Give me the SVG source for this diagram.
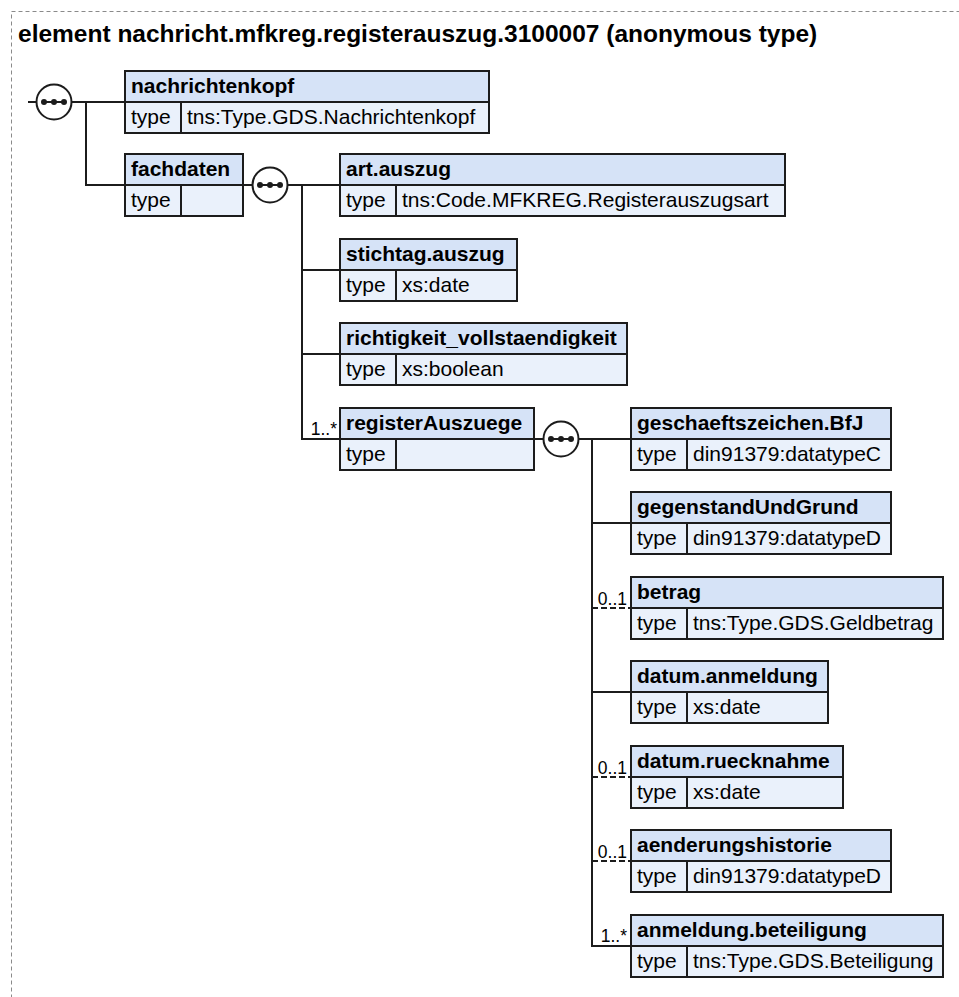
<svg xmlns="http://www.w3.org/2000/svg" width="959" height="997" viewBox="0 0 959 997">
<defs>
<style>
.frame{fill:none;stroke:#8a8a8a;stroke-width:1;stroke-dasharray:4 3}
.title{font-family:"Liberation Sans",Arial,sans-serif;font-weight:bold;font-size:24.5px;fill:#000}
.hd{fill:#d6e3f7;stroke:#1c1c1c;stroke-width:2}
.row{fill:#eaf1fb;stroke:#1c1c1c;stroke-width:2}
.nm{font-family:"Liberation Sans",Arial,sans-serif;font-weight:bold;font-size:21px;fill:#000}
.tx{font-family:"Liberation Sans",Arial,sans-serif;font-size:21px;fill:#000}
.card{font-family:"Liberation Sans",Arial,sans-serif;font-size:17.5px;fill:#000;text-anchor:end}
.ln{fill:none;stroke:#1c1c1c;stroke-width:2}
.opt{fill:none;stroke:#1c1c1c;stroke-width:2;stroke-dasharray:6 3}
.seq{fill:#fff;stroke:#1c1c1c;stroke-width:2}
.dot{fill:#1c1c1c}
</style>
<g id="seqicon">
<circle class="seq" cx="0" cy="0" r="17.5"/>
<line x1="-10" y1="0" x2="10" y2="0" stroke="#1c1c1c" stroke-width="2"/>
<circle class="dot" cx="-10" cy="0" r="3"/>
<circle class="dot" cx="0" cy="0" r="3"/>
<circle class="dot" cx="10" cy="0" r="3"/>
</g>
</defs>
<rect class="frame" x="11.5" y="11.5" width="960" height="1000"/>
<text class="title" x="18" y="42">element nachricht.mfkreg.registerauszug.3100007 (anonymous type)</text>

<g id="connectors">
<line class="ln" x1="28" y1="102" x2="125" y2="102"/>
<polyline class="ln" points="86,102 86,185 125,185"/>
<line class="ln" x1="243" y1="185" x2="340" y2="185"/>
<line class="ln" x1="302" y1="185" x2="302" y2="439"/>
<line class="ln" x1="302" y1="270" x2="340" y2="270"/>
<line class="ln" x1="302" y1="354" x2="340" y2="354"/>
<line class="ln" x1="301" y1="439" x2="340" y2="439"/>
<line class="ln" x1="534" y1="439" x2="631" y2="439"/>
<line class="ln" x1="592" y1="439" x2="592" y2="946"/>
<line class="ln" x1="592" y1="523" x2="631" y2="523"/>
<line class="opt" x1="592" y1="608" x2="631" y2="608"/>
<line class="ln" x1="592" y1="692" x2="631" y2="692"/>
<line class="opt" x1="592" y1="777" x2="631" y2="777"/>
<line class="opt" x1="592" y1="861" x2="631" y2="861"/>
<line class="ln" x1="591" y1="946" x2="631" y2="946"/>
<use href="#seqicon" x="54" y="102"/>
<use href="#seqicon" x="270" y="185"/>
<use href="#seqicon" x="561" y="439"/>
<text class="card" x="337" y="435">1..*</text>
<text class="card" x="627" y="605">0..1</text>
<text class="card" x="627" y="774">0..1</text>
<text class="card" x="627" y="858">0..1</text>
<text class="card" x="627" y="942">1..*</text>
</g>

<g id="nachrichtenkopf">
<rect class="hd" x="125" y="71" width="364" height="31"/>
<rect class="row" x="125" y="102" width="56" height="31"/>
<rect class="row" x="181" y="102" width="308" height="31"/>
<text class="nm" x="131" y="93">nachrichtenkopf</text>
<text class="tx" x="131" y="124">type</text>
<text class="tx" x="187" y="124">tns:Type.GDS.Nachrichtenkopf</text>
</g>

<g id="fachdaten">
<rect class="hd" x="125" y="154" width="118" height="31"/>
<rect class="row" x="125" y="185" width="56" height="31"/>
<rect class="row" x="181" y="185" width="62" height="31"/>
<text class="nm" x="131" y="176">fachdaten</text>
<text class="tx" x="131" y="207">type</text>
</g>

<g id="art.auszug">
<rect class="hd" x="340" y="154" width="445" height="31"/>
<rect class="row" x="340" y="185" width="56" height="31"/>
<rect class="row" x="396" y="185" width="389" height="31"/>
<text class="nm" x="346" y="176">art.auszug</text>
<text class="tx" x="346" y="207">type</text>
<text class="tx" x="402" y="207">tns:Code.MFKREG.Registerauszugsart</text>
</g>

<g id="stichtag.auszug">
<rect class="hd" x="340" y="239" width="177" height="31"/>
<rect class="row" x="340" y="270" width="56" height="31"/>
<rect class="row" x="396" y="270" width="121" height="31"/>
<text class="nm" x="346" y="261">stichtag.auszug</text>
<text class="tx" x="346" y="292">type</text>
<text class="tx" x="402" y="292">xs:date</text>
</g>

<g id="richtigkeit_vollstaendigkeit">
<rect class="hd" x="340" y="323" width="287" height="31"/>
<rect class="row" x="340" y="354" width="56" height="31"/>
<rect class="row" x="396" y="354" width="231" height="31"/>
<text class="nm" x="346" y="345">richtigkeit_vollstaendigkeit</text>
<text class="tx" x="346" y="376">type</text>
<text class="tx" x="402" y="376">xs:boolean</text>
</g>

<g id="registerAuszuege">
<rect class="hd" x="340" y="408" width="194" height="31"/>
<rect class="row" x="340" y="439" width="56" height="31"/>
<rect class="row" x="396" y="439" width="138" height="31"/>
<text class="nm" x="346" y="430">registerAuszuege</text>
<text class="tx" x="346" y="461">type</text>
</g>

<g id="geschaeftszeichen.BfJ">
<rect class="hd" x="631" y="408" width="260" height="31"/>
<rect class="row" x="631" y="439" width="56" height="31"/>
<rect class="row" x="687" y="439" width="204" height="31"/>
<text class="nm" x="637" y="430">geschaeftszeichen.BfJ</text>
<text class="tx" x="637" y="461">type</text>
<text class="tx" x="693" y="461">din91379:datatypeC</text>
</g>

<g id="gegenstandUndGrund">
<rect class="hd" x="631" y="492" width="260" height="31"/>
<rect class="row" x="631" y="523" width="56" height="31"/>
<rect class="row" x="687" y="523" width="204" height="31"/>
<text class="nm" x="637" y="514">gegenstandUndGrund</text>
<text class="tx" x="637" y="545">type</text>
<text class="tx" x="693" y="545">din91379:datatypeD</text>
</g>

<g id="betrag">
<rect class="hd" x="631" y="577" width="312" height="31"/>
<rect class="row" x="631" y="608" width="56" height="31"/>
<rect class="row" x="687" y="608" width="256" height="31"/>
<text class="nm" x="637" y="599">betrag</text>
<text class="tx" x="637" y="630">type</text>
<text class="tx" x="693" y="630">tns:Type.GDS.Geldbetrag</text>
</g>

<g id="datum.anmeldung">
<rect class="hd" x="631" y="661" width="197" height="31"/>
<rect class="row" x="631" y="692" width="56" height="31"/>
<rect class="row" x="687" y="692" width="141" height="31"/>
<text class="nm" x="637" y="683">datum.anmeldung</text>
<text class="tx" x="637" y="714">type</text>
<text class="tx" x="693" y="714">xs:date</text>
</g>

<g id="datum.ruecknahme">
<rect class="hd" x="631" y="746" width="212" height="31"/>
<rect class="row" x="631" y="777" width="56" height="31"/>
<rect class="row" x="687" y="777" width="156" height="31"/>
<text class="nm" x="637" y="768">datum.ruecknahme</text>
<text class="tx" x="637" y="799">type</text>
<text class="tx" x="693" y="799">xs:date</text>
</g>

<g id="aenderungshistorie">
<rect class="hd" x="631" y="830" width="260" height="31"/>
<rect class="row" x="631" y="861" width="56" height="31"/>
<rect class="row" x="687" y="861" width="204" height="31"/>
<text class="nm" x="637" y="852">aenderungshistorie</text>
<text class="tx" x="637" y="883">type</text>
<text class="tx" x="693" y="883">din91379:datatypeD</text>
</g>

<g id="anmeldung.beteiligung">
<rect class="hd" x="631" y="915" width="312" height="31"/>
<rect class="row" x="631" y="946" width="56" height="31"/>
<rect class="row" x="687" y="946" width="256" height="31"/>
<text class="nm" x="637" y="937">anmeldung.beteiligung</text>
<text class="tx" x="637" y="968">type</text>
<text class="tx" x="693" y="968">tns:Type.GDS.Beteiligung</text>
</g>
</svg>
